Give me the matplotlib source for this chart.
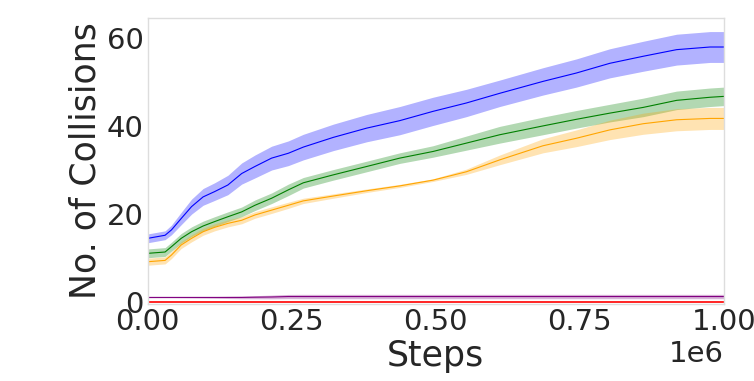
import numpy as np
import matplotlib.pyplot as plt
import seaborn as sns

sns.set_style("white")
plt.rcParams['font.family'] = ['DejaVu Sans']

# training steps (in units of 1e6) at which the curves were read
steps = [0, 0.03, 0.041, 0.058, 0.076, 0.096, 0.116, 0.139, 0.163, 0.186, 0.215, 0.244, 0.27,
         0.322, 0.38, 0.4375, 0.495, 0.553, 0.611, 0.686, 0.744, 0.802, 0.86, 0.918, 0.976, 1.0]

blue_mean = [14.5, 15.2, 16.4, 19.0, 21.7, 23.9, 25.1, 26.6, 29.2, 30.8, 32.7, 33.8, 35.2,
             37.4, 39.5, 41.2, 43.3, 45.2, 47.4, 50.1, 52.0, 54.2, 55.8, 57.3, 57.9, 57.9]
blue_std = [1.0, 1.0, 1.1, 1.4, 1.7, 1.9, 2.0, 2.2, 2.4, 2.6, 2.7, 2.8, 2.9,
            3.0, 3.1, 3.2, 3.2, 3.1, 3.0, 3.1, 3.2, 3.3, 3.4, 3.5, 3.5, 3.5]

green_mean = [11.1, 11.4, 12.6, 14.5, 16.0, 17.3, 18.3, 19.4, 20.5, 22.0, 23.6, 25.5, 27.1,
              28.9, 30.8, 32.7, 34.2, 36.1, 38.0, 40.0, 41.5, 42.9, 44.2, 45.8, 46.5, 46.7]
green_std = [1.0, 1.0, 1.0, 1.1, 1.1, 1.1, 1.1, 1.1, 1.1, 1.2, 1.2, 1.3, 1.2,
             1.2, 1.2, 1.2, 1.3, 1.6, 1.9, 2.0, 2.0, 2.0, 2.1, 2.1, 2.1, 2.1]

orange_mean = [9.2, 9.5, 10.7, 13.0, 14.5, 16.0, 17.0, 17.9, 18.6, 19.8, 20.9, 22.0, 23.0,
               24.1, 25.3, 26.4, 27.7, 29.6, 32.3, 35.5, 37.2, 39.1, 40.5, 41.4, 41.7, 41.7]
orange_std = [0.8, 0.8, 0.8, 0.8, 0.8, 0.8, 0.8, 0.8, 0.8, 0.75, 0.75, 0.7, 0.6,
              0.5, 0.4, 0.35, 0.3, 0.6, 1.1, 1.6, 1.9, 2.2, 2.4, 2.5, 2.5, 2.5]

purple_mean = [1.1, 1.1, 1.1, 1.1, 1.1, 1.1, 1.1, 1.1, 1.1, 1.15, 1.2, 1.3, 1.3,
               1.3, 1.3, 1.3, 1.3, 1.3, 1.3, 1.3, 1.3, 1.3, 1.3, 1.3, 1.3, 1.3]
purple_std = [0.1, 0.1, 0.1, 0.12, 0.14, 0.17, 0.2, 0.25, 0.3, 0.35, 0.42, 0.48, 0.5,
              0.5, 0.5, 0.5, 0.5, 0.5, 0.5, 0.5, 0.5, 0.5, 0.5, 0.5, 0.5, 0.5]

red_mean = [0.0] * len(steps)

series = [
    (blue_mean, blue_std, "blue"),
    (green_mean, green_std, "green"),
    (orange_mean, orange_std, "orange"),
    (purple_mean, purple_std, "purple"),
]

fig = plt.figure(figsize=(7.54, 3.81), dpi=100)
ax = fig.add_axes([0.196, 0.202, 0.764, 0.751])

x = np.array(steps) * 1e6
for mean, std, color in series:
    m = np.array(mean)
    s = np.array(std)
    ax.plot(x, m, color=color, linewidth=0.8)
    ax.fill_between(x, m - s, m + s, color=color, alpha=0.3, linewidth=0)
ax.plot(x, red_mean, color="red", linewidth=1.2)

ax.set_xlim(0, 1e6)
ax.set_ylim(-0.4, 64.5)
ax.set_yticks([0, 20, 40, 60])
ax.set_xticks([0, 0.25e6, 0.5e6, 0.75e6, 1e6])
ax.tick_params(labelsize=21, colors="#262626", length=0, pad=3)
ax.xaxis.get_offset_text().set_fontsize(21)
ax.xaxis.get_offset_text().set_color("#262626")
ax.set_xlabel("Steps", fontsize=25, color="#262626", labelpad=2)
ax.set_ylabel("No. of Collisions", fontsize=25, color="#262626", labelpad=3)
for sp in ax.spines.values():
    sp.set_color("#dddddd")
    sp.set_linewidth(1)

fig.savefig("out.png", dpi=100)
